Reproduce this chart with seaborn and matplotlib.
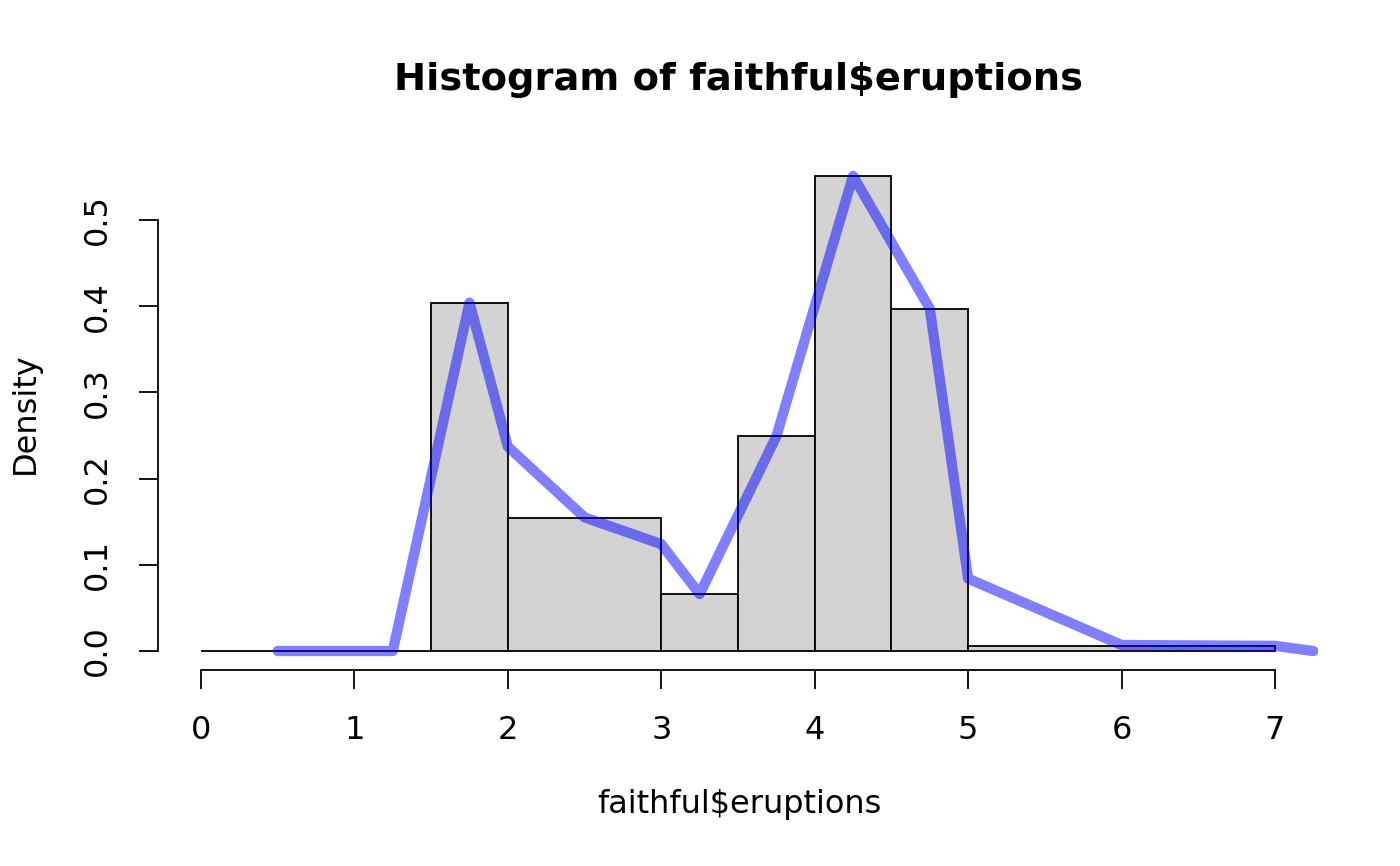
import numpy as np
import matplotlib
matplotlib.use("Agg")
import matplotlib.pyplot as plt
import seaborn as sns

# histogram bins (density scale)
breaks = [0, 1.5, 2, 3, 3.5, 4, 4.5, 5, 7]
density = [0.0, 0.404, 0.154, 0.066, 0.249, 0.551, 0.397, 0.0058]

# overlaid frequency polygon
line_x = [0.5, 1.25, 1.75, 2.0, 2.5, 3.0, 3.25, 3.75, 4.25, 4.75, 5.0, 6.0, 7.0, 7.25]
line_y = [0.0, 0.0, 0.404, 0.237, 0.155, 0.124, 0.066, 0.249, 0.551, 0.397, 0.084, 0.007, 0.006, 0.0]

x_ticks = [0, 1, 2, 3, 4, 5, 6, 7]
y_ticks = [0.0, 0.1, 0.2, 0.3, 0.4, 0.5]

sns.set_style("white")
plt.rcParams['font.family'] = ['DejaVu Sans']
plt.rcParams['text.color'] = 'black'

fig = plt.figure(figsize=(14, 8.66), dpi=100)
ax = fig.add_axes([158 / 1400, 1 - 670 / 866, (1318 - 158) / 1400, (670 - 157) / 866])

mids = [(a + b) / 2 for a, b in zip(breaks[:-1], breaks[1:])]
sns.histplot(x=mids, weights=density, bins=breaks, stat="count", ax=ax,
             color="#d3d3d3", alpha=1, edgecolor="black", linewidth=1.3)

sns.lineplot(x=line_x, y=line_y, ax=ax, color=(0, 0, 1, 0.5), linewidth=7.4,
             solid_capstyle="round", solid_joinstyle="round")

ax.set_xlim(-0.28, 7.28)
ax.set_ylim(-0.022, 0.573)

for side in ["top", "right"]:
    ax.spines[side].set_visible(False)
ax.spines["left"].set_bounds(0, 0.5)
ax.spines["bottom"].set_bounds(0, 7)
for side in ["left", "bottom"]:
    ax.spines[side].set_linewidth(1.3)
    ax.spines[side].set_color("black")

ax.set_xticks(x_ticks)
ax.set_xticklabels([str(t) for t in x_ticks])
ax.set_yticks(y_ticks)
ax.set_yticklabels([f"{t:.1f}" for t in y_ticks], rotation=90, va="center")
ax.tick_params(axis="both", direction="out", length=13.7, width=1.3, pad=19,
               labelsize=23, colors="black", left=True, bottom=True)
ax.set_xlabel("")
ax.set_ylabel("")
ax.grid(False)

fig.text(739 / 1400, 1 - 80 / 866, "Histogram of faithful$eruptions",
         ha="center", va="center", fontsize=27.6, fontweight="bold", color="black")
fig.text(739 / 1400, 1 - 805 / 866, "faithful$eruptions",
         ha="center", va="center", fontsize=23, color="black")
fig.text(25 / 1400, 1 - 413 / 866, "Density", rotation=90,
         ha="center", va="center", fontsize=23, color="black")

fig.savefig("out.png", dpi=100)
